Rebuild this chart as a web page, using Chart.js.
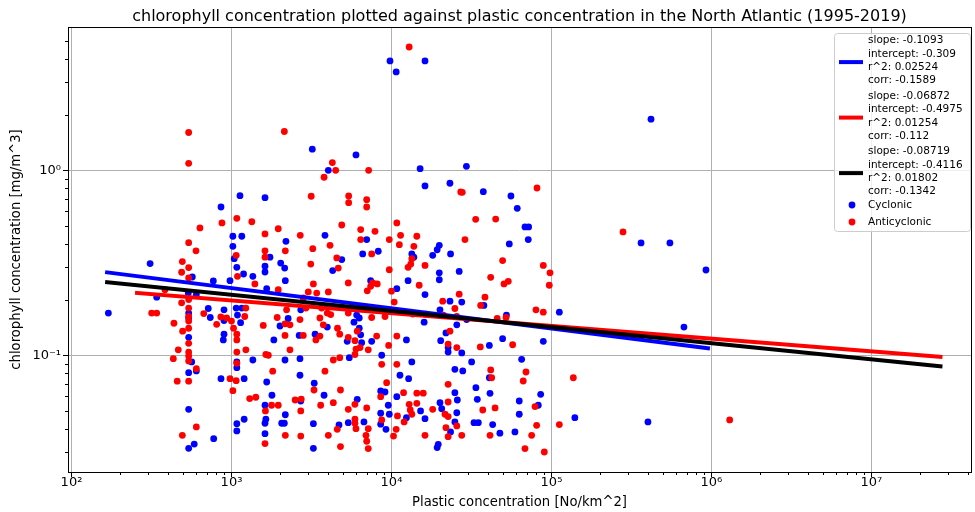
<!DOCTYPE html>
<html>
<head>
<meta charset="utf-8">
<script src="https://cdn.jsdelivr.net/npm/chart.js@4.4.1/dist/chart.umd.min.js"></script>
<style>
  html, body { margin: 0; padding: 0; background: #ffffff; }
  #chart { display: block; }
</style>
</head>
<body>
<canvas id="chart" width="975" height="512"></canvas>
<script>
// Plastic concentration [No/km^2] vs chlorophyll [mg/m^3]
const cyclonicPoints = [
    [9790, 3.90], [10700, 3.40], [16200, 3.90], [419000, 1.89],
    [3200, 1.30], [4030, 1.00], [1130, 0.729], [1620, 0.711], [860, 0.633],
    [6000, 1.21], [15100, 1.02], [16200, 0.823], [23200, 0.851],
    [29400, 1.05], [37500, 0.766], [55800, 0.726], [61100, 0.623], [72000, 0.494], [68300, 0.494],
    [310, 0.313], [569, 0.265], [770, 0.252], [341, 0.206], [537, 0.217], [603, 0.213], [716, 0.179],
    [737, 0.160], [170, 0.169], [540, 0.125], [540, 0.169], [540, 0.159],
    [564, 0.0920], [603, 0.0823], [540, 0.0805], [860, 0.0747], [540, 0.0510], [774, 0.0354],
    [585, 0.0331], [540, 0.0314],
    [3840, 0.445], [1160, 0.440], [1020, 0.440], [2190, 0.413], [1020, 0.388], [1740, 0.339],
    [1040, 0.333], [2030, 0.315], [1080, 0.299], [1620, 0.303], [2150, 0.296], [4290, 0.287],
    [1620, 0.282], [1190, 0.275], [1360, 0.267], [979, 0.253], [2170, 0.253], [1660, 0.229],
    [898, 0.176], [1070, 0.180], [1160, 0.180], [2710, 0.176], [1090, 0.165], [2260, 0.158],
    [898, 0.154], [1140, 0.150], [2010, 0.144], [3970, 0.142], [898, 0.130], [2650, 0.128],
    [3330, 0.130], [889, 0.121], [1840, 0.121],
    [1080, 0.0920], [1360, 0.0943], [2160, 0.0943], [2680, 0.0958], [1080, 0.0857], [2680, 0.0780],
    [1200, 0.0747], [1660, 0.0717], [3290, 0.0706], [1790, 0.0608], [3790, 0.0608],
    [2710, 0.0566], [1620, 0.0537], [2170, 0.0477], [1200, 0.0451], [1640, 0.0451], [1080, 0.0427],
    [1620, 0.0429], [2060, 0.0429], [2140, 0.0429], [3250, 0.0427], [4700, 0.0420], [1080, 0.0390],
    [1620, 0.0377], [3250, 0.0314],
    [7000, 0.422], [19900, 0.393], [19300, 0.372], [8270, 0.365], [6610, 0.353], [13400, 0.353],
    [18100, 0.347], [23400, 0.353], [13800, 0.339], [4890, 0.329], [19900, 0.279], [26500, 0.284],
    [7410, 0.253], [19900, 0.256], [12700, 0.253], [10800, 0.229], [16200, 0.213], [23200, 0.196],
    [20100, 0.176], [6060, 0.165], [5830, 0.151], [6290, 0.159], [16000, 0.151], [25600, 0.146],
    [6290, 0.140], [6420, 0.129], [5290, 0.119], [6510, 0.117], [12400, 0.121], [7520, 0.119],
    [21900, 0.132], [20300, 0.120],
    [5450, 0.0971], [8690, 0.100], [22600, 0.110], [22600, 0.104], [13400, 0.0920], [24900, 0.0840],
    [11300, 0.0780], [12800, 0.0747], [8560, 0.0641], [9110, 0.0633], [24900, 0.0628], [10800, 0.0597],
    [6110, 0.0578], [20100, 0.0554], [25800, 0.0573], [9550, 0.0537], [20600, 0.0514], [15200, 0.0500],
    [16200, 0.0454], [25600, 0.0489], [8560, 0.0486], [9690, 0.0480], [12400, 0.0460],
    [5370, 0.0432], [6730, 0.0436], [8560, 0.0424], [24900, 0.0436], [9240, 0.0398], [23400, 0.0385],
    [19600, 0.0330], [19300, 0.0317],
    [54500, 0.400], [71600, 0.422], [27500, 0.194], [37800, 0.186], [112000, 0.171], [52300, 0.165],
    [29500, 0.156], [49500, 0.123], [40900, 0.113], [88900, 0.119],
    [27500, 0.103], [31700, 0.0920], [65100, 0.0951], [27900, 0.0823], [40900, 0.0756], [33700, 0.0668],
    [41300, 0.0623], [85600, 0.0615], [34400, 0.0578], [62900, 0.0566], [82700, 0.0537],
    [62900, 0.0480], [140000, 0.0460], [32800, 0.0432], [34900, 0.0432], [42900, 0.0422],
    [47600, 0.0379], [59100, 0.0385],
    [363000, 0.405], [550000, 0.405], [924000, 0.289], [673000, 0.142], [401000, 0.0436]
];

const anticyclonicPoints = [
    [12900, 4.64], [540, 1.60], [540, 1.09], [2140, 1.62], [4270, 1.10], [4480, 1.00], [3790, 0.917],
    [3150, 0.724], [872, 0.519], [1080, 0.550], [1340, 0.527], [1960, 0.483],
    [7200, 1.00], [27100, 0.763], [5400, 0.726], [5400, 0.668], [7000, 0.694], [7000, 0.633],
    [10800, 0.519], [4890, 0.506], [27700, 0.760], [81200, 0.802], [33600, 0.543], [44800, 0.545],
    [635, 0.488], [540, 0.406], [600, 0.367], [493, 0.321], [540, 0.298], [488, 0.281], [540, 0.262],
    [384, 0.226], [488, 0.192], [671, 0.168], [858, 0.161], [808, 0.147], [317, 0.169], [341, 0.169],
    [437, 0.149], [495, 0.135], [540, 0.116], [540, 0.140], [540, 0.200], [540, 0.180], [540, 0.162],
    [540, 0.153],
    [465, 0.107], [540, 0.104], [540, 0.0991], [433, 0.0958], [540, 0.0931], [603, 0.0846],
    [458, 0.0724], [540, 0.0724], [603, 0.0410], [493, 0.0369],
    [1620, 0.453], [2690, 0.445], [4130, 0.393], [3220, 0.377], [1620, 0.367], [2170, 0.367],
    [1070, 0.347], [1620, 0.339], [4550, 0.336], [3130, 0.311], [4650, 0.296], [1090, 0.267],
    [1400, 0.243], [3250, 0.243], [1960, 0.226], [3020, 0.220], [4030, 0.220], [3410, 0.217],
    [2810, 0.204], [1230, 0.180], [2210, 0.176], [2920, 0.180], [3660, 0.180], [3970, 0.169],
    [933, 0.159], [1210, 0.162], [1930, 0.160], [2680, 0.156], [3570, 0.159], [4170, 0.166],
    [1000, 0.153], [2160, 0.148], [2320, 0.146], [1580, 0.145], [3750, 0.146], [4600, 0.140],
    [1030, 0.140], [1080, 0.130], [2160, 0.128], [2810, 0.128], [3570, 0.127], [4750, 0.130],
    [1080, 0.121], [3370, 0.121],
    [1080, 0.104], [1230, 0.107], [1640, 0.101], [1700, 0.100], [2320, 0.107], [1080, 0.0905],
    [4330, 0.0943], [4750, 0.0971], [1810, 0.0820], [3840, 0.0820], [979, 0.0747], [1070, 0.0729],
    [1020, 0.0644], [3280, 0.0649], [4800, 0.0649], [1300, 0.0583], [1420, 0.0593], [2500, 0.0573],
    [2730, 0.0580], [4330, 0.0554], [1780, 0.0537], [1960, 0.0537], [3610, 0.0537], [1630, 0.0500],
    [2710, 0.0500], [4580, 0.0398], [2170, 0.0369], [2710, 0.0366], [4030, 0.0369], [1620, 0.0333],
    [4800, 0.0321],
    [6420, 0.478], [7890, 0.468], [11400, 0.445], [14400, 0.440], [6420, 0.422], [9690, 0.422],
    [11200, 0.396], [13800, 0.388], [7520, 0.353], [13400, 0.333], [13200, 0.311], [12700, 0.299],
    [16200, 0.306], [9690, 0.290], [5370, 0.246], [7630, 0.246], [8150, 0.243], [7410, 0.236],
    [14900, 0.239], [7060, 0.223], [10000, 0.222], [26500, 0.214], [10400, 0.194], [20900, 0.196],
    [24900, 0.179], [5370, 0.169], [7520, 0.160], [9110, 0.162], [13600, 0.167], [16400, 0.167],
    [21100, 0.165], [25600, 0.162], [6110, 0.135], [8080, 0.127], [5370, 0.125], [5910, 0.120],
    [10800, 0.127], [9600, 0.113], [23200, 0.135], [22600, 0.115],
    [6000, 0.108], [6360, 0.110], [7160, 0.107], [5910, 0.101], [25600, 0.110], [8690, 0.0894],
    [10800, 0.0894], [9330, 0.0711], [11900, 0.0628], [14400, 0.0624], [15800, 0.0624],
    [22600, 0.0697], [8560, 0.0597], [22600, 0.0559], [5910, 0.0543], [5370, 0.0510], [7000, 0.0519],
    [12900, 0.0543], [14400, 0.0550], [18100, 0.0510], [13100, 0.0506], [13400, 0.0480],
    [21600, 0.0480], [22600, 0.0466], [10900, 0.0470], [8690, 0.0447], [5910, 0.0451], [5910, 0.0429],
    [12000, 0.0436], [6000, 0.0401], [7160, 0.0401], [10700, 0.0398], [21900, 0.0406], [25600, 0.0415],
    [6930, 0.0369], [10300, 0.0366], [16200, 0.0369], [22600, 0.0363], [7000, 0.0343], [7160, 0.0313],
    [28800, 0.422], [49500, 0.325], [88900, 0.306], [97900, 0.279], [41700, 0.264], [53700, 0.251],
    [50500, 0.243], [96900, 0.239], [38400, 0.206], [36100, 0.186], [80000, 0.176], [88900, 0.171],
    [45800, 0.158], [52000, 0.160], [57200, 0.114], [35900, 0.111],
    [41700, 0.0833], [69300, 0.0812], [42300, 0.0756], [66600, 0.0726], [137000, 0.0756],
    [37200, 0.0506], [44400, 0.0519], [78900, 0.0528], [80800, 0.0418], [112000, 0.0422],
    [27500, 0.0369], [41300, 0.0369], [75200, 0.0369], [68300, 0.0313], [90200, 0.0300],
    [280000, 0.464], [1300000, 0.0447]
];

// log10(chl) = slope * log10(plastic) + intercept ; cyclonic, anticyclonic, all
const fitSlopes = [-0.1093, -0.06872, -0.08719];
const fitIntercepts = [-0.309, -0.4975, -0.4116];
const fitR2 = [0.02524, 0.01254, 0.01802];
const fitCorr = [-0.1589, -0.112, -0.1342];
const fitXFrom = [167, 257, 167];
const fitXTo = [951000, 27000000, 27000000];
const fitColors = ['#0000ff', '#ff0000', '#000000'];

const xTickValues = [1e2, 1e3, 1e4, 1e5, 1e6, 1e7];
const xTickLabels = ['10²', '10³', '10⁴', '10⁵', '10⁶', '10⁷'];
const yTickValues = [0.1, 1];
const yTickLabels = ['10⁻¹', '10⁰'];

const FONT = '"DejaVu Sans", Verdana, sans-serif';

function isDecade(v) {
    const l = Math.log10(v);
    return Math.abs(l - Math.round(l)) < 1e-9;
}

// major + minor ticks of a log axis (1..9 x 10^k)
function logTicks(min, max) {
    const out = [];
    for (let e = Math.floor(Math.log10(min)); e <= Math.ceil(Math.log10(max)); e++) {
        for (let m = 1; m <= 9; m++) {
            const v = m * Math.pow(10, e);
            if (v >= min && v <= max) out.push({ value: v });
        }
    }
    return out;
}

function fitLine(i) {
    const f = x => Math.pow(10, fitSlopes[i] * Math.log10(x) + fitIntercepts[i]);
    return [
        { x: fitXFrom[i], y: f(fitXFrom[i]) },
        { x: fitXTo[i], y: f(fitXTo[i]) }
    ];
}

const plotFrame = {
    id: 'plotFrame',
    afterDraw(chart) {
        const ctx = chart.ctx;
        const a = chart.chartArea;
        ctx.save();

        // tick marks (outward)
        ctx.strokeStyle = '#000';
        ctx.lineWidth = 1;
        const xs = chart.scales.x, ys = chart.scales.y;
        xs.ticks.forEach(t => {
            const px = Math.round(xs.getPixelForValue(t.value)) + 0.5;
            const len = isDecade(t.value) ? 5 : 3;
            ctx.beginPath();
            ctx.moveTo(px, a.bottom);
            ctx.lineTo(px, a.bottom + len);
            ctx.stroke();
        });
        ys.ticks.forEach(t => {
            const py = Math.round(ys.getPixelForValue(t.value)) + 0.5;
            const len = isDecade(t.value) ? 5 : 3;
            ctx.beginPath();
            ctx.moveTo(a.left, py);
            ctx.lineTo(a.left - len, py);
            ctx.stroke();
        });

        // axes box
        ctx.strokeRect(Math.round(a.left) + 0.5, Math.round(a.top) + 0.5,
            Math.round(a.right - a.left), Math.round(a.bottom - a.top));

        // title
        ctx.fillStyle = '#000';
        ctx.font = '16px ' + FONT;
        ctx.textAlign = 'center';
        ctx.textBaseline = 'alphabetic';
        ctx.fillText('chlorophyll concentration plotted against plastic concentration in the North Atlantic (1995-2019)',
            (a.left + a.right) / 2, 21);

        // legend
        const bx = a.right - 137, by = a.top + 6, bw = 136, bh = 198;
        ctx.fillStyle = 'rgba(255,255,255,0.8)';
        ctx.strokeStyle = '#cccccc';
        ctx.beginPath();
        ctx.roundRect(bx + 0.5, by + 0.5, bw, bh, 3);
        ctx.fill();
        ctx.stroke();

        ctx.font = '10.5px ' + FONT;
        ctx.textAlign = 'left';
        ctx.textBaseline = 'middle';
        const lineGap = 13.4;
        for (let i = 0; i < 3; i++) {
            const top = by + 7.5 + i * 55.5;
            const texts = [
                'slope: ' + fitSlopes[i],
                'intercept: ' + fitIntercepts[i],
                'r^2: ' + fitR2[i],
                'corr: ' + fitCorr[i]
            ];
            ctx.strokeStyle = fitColors[i];
            ctx.lineWidth = 4;
            ctx.beginPath();
            const ly = top + 1.5 * lineGap + 1.5;
            ctx.moveTo(bx + 5, ly);
            ctx.lineTo(bx + 29, ly);
            ctx.stroke();
            ctx.fillStyle = '#000';
            texts.forEach((s, k) => ctx.fillText(s, bx + 34, top + k * lineGap));
        }
        const markers = [['Cyclonic', '#0000ff'], ['Anticyclonic', '#ff0000']];
        markers.forEach((m, k) => {
            const cy = by + 172 + k * 17;
            ctx.fillStyle = m[1];
            ctx.beginPath();
            ctx.arc(bx + 18, cy, 3.4, 0, Math.PI * 2);
            ctx.fill();
            ctx.fillStyle = '#000';
            ctx.fillText(m[0], bx + 34, cy);
        });
        ctx.restore();
    }
};

function logAxis(min, max, values, labels, position) {
    return {
        type: 'logarithmic',
        position: position,
        min: min,
        max: max,
        afterBuildTicks: scale => { scale.ticks = logTicks(min, max); },
        ticks: {
            autoSkip: false,
            maxRotation: 0,
            color: '#000',
            padding: position === 'left' ? 7 : 3,
            font: { family: FONT, size: 13 },
            callback: value => {
                const i = values.findIndex(v => Math.abs(v - value) / v < 1e-6);
                return i >= 0 ? labels[i] : '';
            }
        },
        grid: {
            drawTicks: false,
            lineWidth: 1,
            color: c => (c.tick && isDecade(c.tick.value)) ? '#b0b0b0' : 'rgba(0,0,0,0)'
        },
        border: { display: false }
    };
}

const xAxis = logAxis(95.1, 4.19e7, xTickValues, xTickLabels, 'bottom');
xAxis.afterFit = scale => { scale.height = 40; };
xAxis.title = {
    display: true,
    text: 'Plastic concentration [No/km^2]',
    color: '#000',
    font: { family: FONT, size: 13.2 },
    padding: { top: 0, bottom: 2 }
};

const yAxis = logAxis(0.02339, 5.95, yTickValues, yTickLabels, 'left');
yAxis.afterFit = scale => { scale.width = 68; };
yAxis.title = {
    display: true,
    text: 'chlorophyll concentration [mg/m^3]',
    color: '#000',
    font: { family: FONT, size: 13.2 },
    padding: { top: 9, bottom: 0 }
};

const datasets = [];
// fit lines are drawn over the scatter (first dataset is drawn on top)
[2, 1, 0].forEach(i => {
    datasets.push({
        type: 'line',
        label: 'fit ' + i,
        data: fitLine(i),
        borderColor: fitColors[i],
        borderWidth: 4,
        borderCapStyle: 'square',
        pointRadius: 0,
        fill: false
    });
});
datasets.push({
    type: 'scatter',
    label: 'Anticyclonic',
    data: anticyclonicPoints.map(p => ({ x: p[0], y: p[1] })),
    backgroundColor: '#ff0000',
    borderWidth: 0,
    pointRadius: 3.4
});
datasets.push({
    type: 'scatter',
    label: 'Cyclonic',
    data: cyclonicPoints.map(p => ({ x: p[0], y: p[1] })),
    backgroundColor: '#0000ff',
    borderWidth: 0,
    pointRadius: 3.4
});

new Chart(document.getElementById('chart'), {
    type: 'scatter',
    data: { datasets },
    options: {
        responsive: false,
        animation: false,
        devicePixelRatio: 1,
        layout: { padding: { top: 27, right: 4, left: 0, bottom: 0 } },
        plugins: {
            legend: { display: false },
            tooltip: { enabled: false },
            title: { display: false }
        },
        scales: { x: xAxis, y: yAxis }
    },
    plugins: [plotFrame]
});
</script>
</body>
</html>
